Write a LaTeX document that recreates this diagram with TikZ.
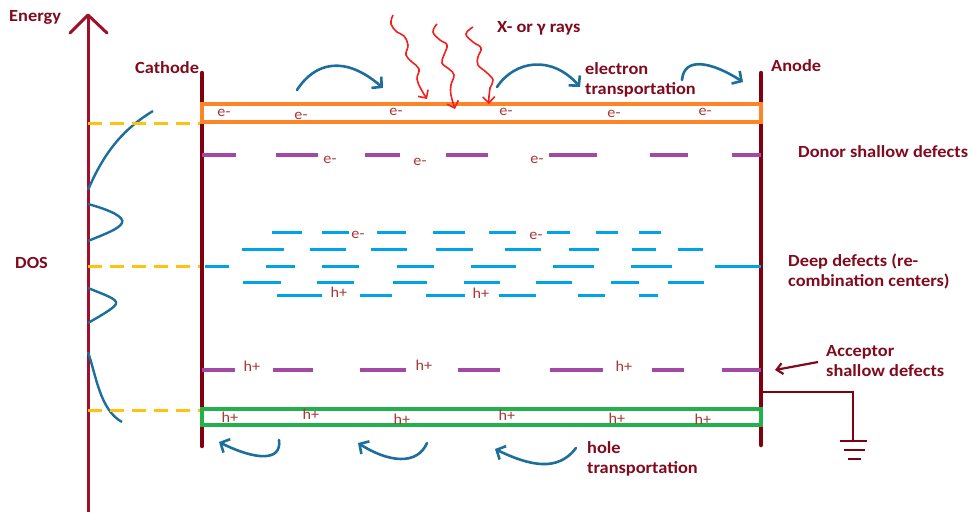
\documentclass[tikz,border=0pt]{standalone}
\usepackage{fontspec}
\setmainfont{Carlito}
\newfontfamily\lblfont{Carlito}[FakeStretch=1.08]
\usetikzlibrary{arrows.meta}
\definecolor{dred}{HTML}{800A1E}
\definecolor{axred}{HTML}{A0102A}
\definecolor{elec}{HTML}{800010}
\definecolor{orng}{HTML}{FF8427}
\definecolor{grn}{HTML}{22B14C}
\definecolor{purp}{HTML}{A349A4}
\definecolor{cyanb}{HTML}{00A2E8}
\definecolor{ylw}{HTML}{FFC20E}
\definecolor{blu}{HTML}{1C6E9C}
\definecolor{xred}{HTML}{F22020}
\definecolor{chg}{HTML}{A83838}
\tikzset{
  title/.style={font=\lblfont\fontsize{17}{20}\selectfont\bfseries, text=dred, inner sep=0pt, align=left},
  chglbl/.style={font=\lblfont\fontsize{15}{15}\selectfont, text=chg, inner sep=0pt},
  electrode/.style={draw=elec, line width=4.5pt, line cap=round},
  purpdash/.style={draw=purp, line width=4.5pt},
  bluedash/.style={draw=cyanb, line width=3pt},
  ydash/.style={draw=ylw, line width=3pt, dash pattern=on 14pt off 8pt},
  flow/.style={draw=blu, line width=2.6pt, line cap=round, -{Straight Barb[length=7pt,width=15pt,line width=2.6pt]}},
  dos/.style={draw=blu, line width=2.4pt},
  ray/.style={draw=xred, line width=1.6pt, -{Straight Barb[length=6pt,width=12pt,line width=1.6pt]}},
}
\begin{document}
\begin{tikzpicture}[x=1pt,y=-1pt]
\useasboundingbox (0,0) rectangle (971,512);
% energy axis
\draw[axred, line width=3pt] (88,512) -- (88,16);
\draw[axred, line width=3pt, line cap=round, line join=round] (70,33) -- (88,15) -- (107,33);
\node[title, anchor=west] (energy) at (9,17) {Energy};
\node[title, anchor=west] (dos) at (15,263) {DOS};
% DOS curves
\draw[dos] (88,190) .. controls (105,150) and (125,128) .. (153,111);
\draw[dos] (88,204) .. controls (110,210) and (125,217) .. (122,223) .. controls (119,229) and (105,234) .. (88,241);
\draw[dos] (88,288) .. controls (105,295) and (118,299) .. (116,304) .. controls (113,309) and (100,316) .. (88,323);
\draw[dos] (88,352) .. controls (96,375) and (100,410) .. (122,422);
% yellow dashed levels
\draw[ydash] (88,123) -- (202,123);
\draw[ydash] (88,266) -- (202,266);
\draw[ydash] (88,410) -- (202,410);
% electrodes
\coordinate (cTop) at (202,73); \coordinate (cBot) at (202,446);
\coordinate (aTop) at (761,73); \coordinate (aBot) at (761,445);
\draw[electrode] (cTop) -- (cBot);
\draw[electrode] (aTop) -- (aBot);
\node[title, anchor=west] (cathode) at (135,68) {Cathode};
\node[title, anchor=west] (anode) at (771,66) {Anode};
% bands
\draw[orng, line width=4pt] (202,104) rectangle (761,122);
\draw[grn, line width=4pt] (202,409) rectangle (761,425);
% donor shallow defects
\foreach \a/\b in {202/236,276/318,365/400,446/488,549/597,650/688,732/761}
  \draw[purpdash] (\a,155) -- (\b,155);
% acceptor shallow defects
\foreach \a/\b in {202/235,273/313,360/406,458/500,550/603,652/684,722/761}
  \draw[purpdash] (\a,370) -- (\b,370);
% deep defects
\foreach \a/\b in {272/302,322/349,377/406,433/465,489/516,547/570,596/618,639/661}
  \draw[bluedash] (\a,232) -- (\b,232);
\foreach \a/\b in {242/284,310/346,371/407,436/473,505/541,569/599,632/656,678/703}
  \draw[bluedash] (\a,249) -- (\b,249);
\foreach \a/\b in {205/229,266/295,322/359,397/434,471/516,553/594,631/672,715/761}
  \draw[bluedash] (\a,266) -- (\b,266);
\foreach \a/\b in {243/281,317/354,393/427,464/500,536/572,611/639,668/704}
  \draw[bluedash] (\a,282) -- (\b,282);
\foreach \a/\b in {277/322,360/392,426/465,499/536,578/605,639/658}
  \draw[bluedash] (\a,295) -- (\b,295);
% charges
\foreach \x/\y [count=\i] in {224/113,301/116,396/112,506/112,614/114,705/112}
  \node[chglbl] (ec\i) at (\x,\y) {e-};
\foreach \x/\y [count=\i] in {330/160,420/162,537/160}
  \node[chglbl] (ed\i) at (\x,\y) {e-};
\foreach \x/\y [count=\i] in {358/235,536/236}
  \node[chglbl] (ep\i) at (\x,\y) {e-};
\foreach \x/\y [count=\i] in {339/292,481/293}
  \node[chglbl] (hp\i) at (\x,\y) {h+};
\foreach \x/\y [count=\i] in {252/366,424/365,624/366}
  \node[chglbl] (ha\i) at (\x,\y) {h+};
\foreach \x/\y [count=\i] in {230/417,311/414,402/419,507/415,617/418,703/419}
  \node[chglbl] (hv\i) at (\x,\y) {h+};
% x rays
\draw[ray] plot[smooth, tension=0.7] coordinates {(393,15) (391,24) (397,32) (404,36) (408,45) (406,55) (412,62) (419,69) (417,79) (421,89) (427,99)};
\draw[ray] plot[smooth, tension=0.7] coordinates {(437,24) (433,32) (440,40) (447,45) (444,55) (442,63) (449,69) (454,75) (451,85) (451,95) (455,109)};
\draw[ray] plot[smooth, tension=0.7] coordinates {(473,27) (466,34) (473,42) (481,48) (478,57) (478,65) (486,72) (493,80) (490,88) (489,96) (489,104)};
\node[title, anchor=west] (xray) at (497,28) {X- or γ rays};
% electron transport arrows
\draw[flow] (297,90) .. controls (315,62) and (345,55) .. (383,88);
\draw[flow] (497,87) .. controls (515,60) and (552,55) .. (580,87);
\draw[flow] (682,80) .. controls (684,56) and (712,62) .. (743,82);
\node[title, anchor=west] (etrans) at (585,80) {electron\\transportation};
% hole transport arrows
\draw[flow] (279,440) .. controls (282,462) and (255,460) .. (219,442);
\draw[flow] (427,443) .. controls (417,466) and (388,462) .. (358,443);
\draw[flow] (576,448) .. controls (558,472) and (530,466) .. (495,449);
\node[title, anchor=west] (htrans) at (587,459) {hole\\transportation};
% right labels
\node[title, anchor=west] (donor) at (798,152) {Donor shallow defects};
\node[title, anchor=west] (deep) at (788,271) {Deep defects (re-\\combination centers)};
\node[title, anchor=west] (accept) at (826,361) {Acceptor\\shallow defects};
\coordinate (accTail) at (818,362);
\coordinate (accHead) at (775,370);
\draw[dred, line width=2.2pt, -{Straight Barb[length=6pt,width=11pt,line width=2.2pt]}] (accTail) -- (accHead);
% ground
\coordinate (g0) at (761,392);
\coordinate (g1) at (853,392);
\coordinate (g2) at (853,441);
\draw[elec, line width=2.4pt] (g0) -- (g1) -- (g2);
\draw[elec, line width=2.4pt] (840,441) -- (867,441);
\draw[elec, line width=2.4pt] (844,450) -- (865,450);
\draw[elec, line width=2.4pt] (848,459) -- (861,459);
\end{tikzpicture}
\end{document}
